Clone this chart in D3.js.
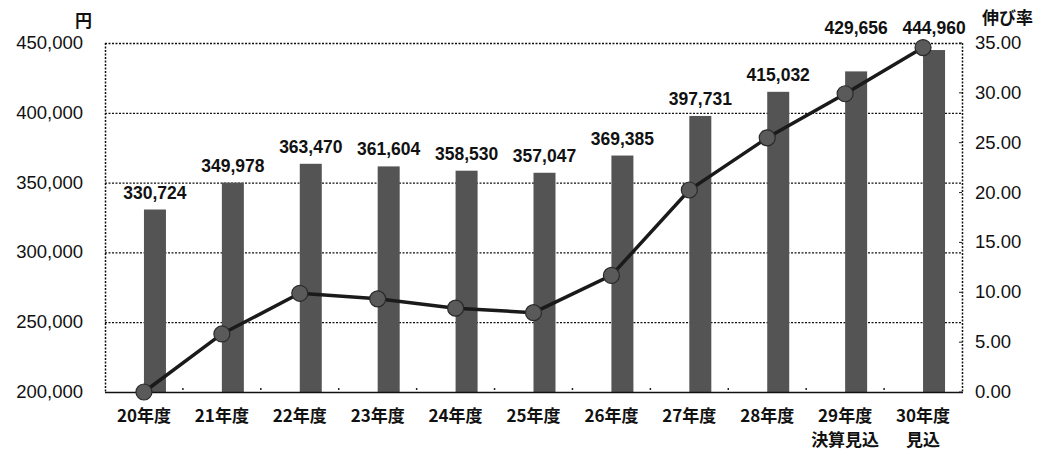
<!DOCTYPE html>
<html>
<head>
<meta charset="utf-8">
<script src="https://cdn.jsdelivr.net/npm/d3@7/dist/d3.min.js"></script>
<style>
  body { margin: 0; background: #fff; }
  svg { display: block; }
  .num { font-family: "Liberation Sans", Arial, sans-serif; }
  .jp { font-family: "Noto Sans CJK JP", sans-serif; }
</style>
</head>
<body>
<div id="chart"></div>
<script>
// data
var years = ['20年度', '21年度', '22年度', '23年度', '24年度', '25年度', '26年度', '27年度', '28年度', '29年度', '30年度'];
var subLabels = ['', '', '', '', '', '', '', '', '', '決算見込', '見込'];
var amounts = [330724, 349978, 363470, 361604, 358530, 357047, 369385, 397731, 415032, 429656, 444960];
var growth = [0.00, 5.82, 9.90, 9.34, 8.41, 7.96, 11.69, 20.26, 25.49, 29.91, 34.54];
var leftTicks = [200000, 250000, 300000, 350000, 400000, 450000];
var rightTicks = [0, 5, 10, 15, 20, 25, 30, 35];

var W = 1039, H = 451;
var margin = {top: 43, right: 77, bottom: 59, left: 105};
var fmt = d3.format(',');
var fmt2 = d3.format('.2f');

var svg = d3.select('#chart').append('svg')
    .attr('width', W)
    .attr('height', H);

var x = d3.scaleBand()
    .domain(years)
    .range([margin.left, W - margin.right]);

// excel-style cluster: empty slot on the left, bar on the right of the centre
var xSub = d3.scaleBand()
    .domain(['blank', 'value'])
    .range([x.bandwidth() / 2 - 22, x.bandwidth() / 2 + 22]);

var y = d3.scaleLinear()
    .domain([200000, 450000])
    .range([H - margin.bottom, margin.top]);

var y2 = d3.scaleLinear()
    .domain([0, 35])
    .range([H - margin.bottom, margin.top]);

var left = margin.left, right = W - margin.right;

// dotted grid + frame
svg.append('g')
    .selectAll('line')
    .data(leftTicks.slice(1))
  .enter().append('line')
    .attr('x1', left).attr('x2', right)
    .attr('y1', function(d) { return y(d) + 0.5; })
    .attr('y2', function(d) { return y(d) + 0.5; })
    .attr('stroke', '#111')
    .attr('stroke-width', 1.3)
    .attr('stroke-dasharray', '2,1.5');

[left, right].forEach(function(xx) {
    svg.append('line')
        .attr('x1', xx + 0.5).attr('x2', xx + 0.5)
        .attr('y1', y(450000)).attr('y2', y(200000))
        .attr('stroke', '#111')
        .attr('stroke-width', 1.5)
        .attr('stroke-dasharray', '2,1.5');
});

// bars
svg.append('g')
    .selectAll('rect')
    .data(amounts)
  .enter().append('rect')
    .attr('x', function(d, i) { return x(years[i]) + xSub('value'); })
    .attr('width', xSub.bandwidth())
    .attr('y', function(d) { return y(d); })
    .attr('height', function(d) { return y(200000) - y(d); })
    .attr('fill', '#545454');

// bottom axis line
svg.append('line')
    .attr('x1', left).attr('x2', right + 1)
    .attr('y1', y(200000) + 0.5).attr('y2', y(200000) + 0.5)
    .attr('stroke', '#111')
    .attr('stroke-width', 1.6);

// small category ticks
svg.append('g')
    .selectAll('line')
    .data(years.slice(1))
  .enter().append('line')
    .attr('x1', function(d) { return x(d); })
    .attr('x2', function(d) { return x(d); })
    .attr('y1', y(200000) - 4)
    .attr('y2', y(200000) - 2)
    .attr('stroke', '#222')
    .attr('stroke-width', 1.5);

// right axis ticks (inside)
svg.append('g')
    .selectAll('line')
    .data(rightTicks)
  .enter().append('line')
    .attr('x1', right - 3).attr('x2', right)
    .attr('y1', function(d) { return y2(d); })
    .attr('y2', function(d) { return y2(d); })
    .attr('stroke', '#222')
    .attr('stroke-width', 1);

// growth line
var line = d3.line()
    .x(function(d, i) { return x(years[i]) + x.bandwidth() / 2; })
    .y(function(d) { return y2(d); });

svg.append('path')
    .datum(growth)
    .attr('d', line)
    .attr('fill', 'none')
    .attr('stroke', '#1a1a1a')
    .attr('stroke-width', 3.5);

svg.append('g')
    .selectAll('circle')
    .data(growth)
  .enter().append('circle')
    .attr('cx', function(d, i) { return x(years[i]) + x.bandwidth() / 2; })
    .attr('cy', function(d) { return y2(d); })
    .attr('r', 8)
    .attr('fill', '#5a5a5a')
    .attr('stroke', '#2a2a2a')
    .attr('stroke-width', 1.2);

// value labels
svg.append('g')
    .selectAll('text')
    .data(amounts)
  .enter().append('text')
    .attr('class', 'num')
    .attr('x', function(d, i) { return x(years[i]) + xSub('value') + xSub.bandwidth() / 2; })
    .attr('y', function(d, i) { return i >= 9 ? y(450000) - 9 : y(d) - 11; })
    .attr('text-anchor', 'middle')
    .attr('font-size', 17.5)
    .attr('font-weight', 'bold')
    .attr('fill', '#111')
    .text(function(d) { return fmt(d); });

// left axis labels
svg.append('g')
    .selectAll('text')
    .data(leftTicks)
  .enter().append('text')
    .attr('class', 'num')
    .attr('x', 83)
    .attr('y', function(d) { return y(d) + 6; })
    .attr('text-anchor', 'end')
    .attr('font-size', 18.5)
    .attr('fill', '#111')
    .text(function(d) { return fmt(d); });

// right axis labels
svg.append('g')
    .selectAll('text')
    .data(rightTicks)
  .enter().append('text')
    .attr('class', 'num')
    .attr('x', 975)
    .attr('y', function(d) { return y2(d) + 6; })
    .attr('font-size', 18.5)
    .attr('fill', '#111')
    .text(function(d) { return fmt2(d); });

// category labels
var cat = svg.append('g')
    .selectAll('text')
    .data(years)
  .enter().append('text')
    .attr('class', 'jp')
    .attr('text-anchor', 'middle')
    .attr('font-size', 17)
    .attr('font-weight', 'bold')
    .attr('fill', '#111');

cat.append('tspan')
    .attr('x', function(d) { return x(d) + x.bandwidth() / 2; })
    .attr('y', 422)
    .text(function(d) { return d; });

cat.append('tspan')
    .attr('x', function(d) { return x(d) + x.bandwidth() / 2; })
    .attr('y', 446)
    .text(function(d, i) { return subLabels[i]; });

// unit labels
svg.append('text')
    .attr('class', 'jp')
    .attr('x', 75).attr('y', 27)
    .attr('font-size', 17)
    .attr('font-weight', 'bold')
    .attr('fill', '#111')
    .text('円');

svg.append('text')
    .attr('class', 'jp')
    .attr('x', 982).attr('y', 24)
    .attr('font-size', 17)
    .attr('font-weight', 'bold')
    .attr('fill', '#111')
    .text('伸び率');
</script>
</body>
</html>
